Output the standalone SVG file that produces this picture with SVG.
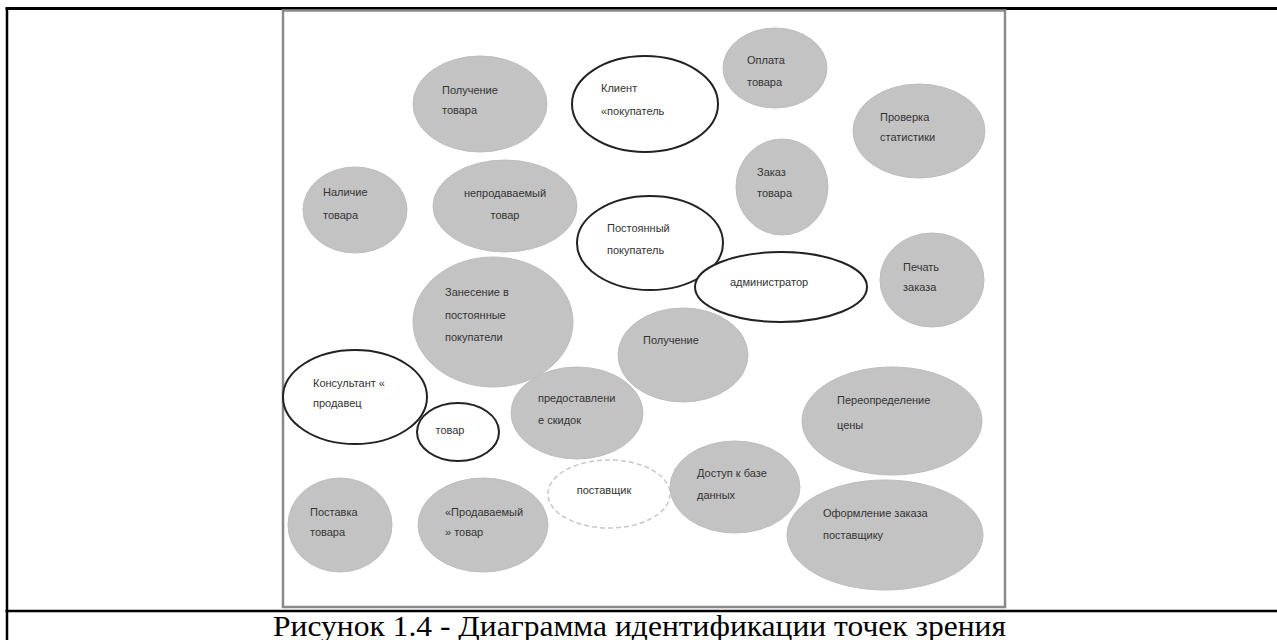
<svg xmlns="http://www.w3.org/2000/svg" width="1277" height="640" viewBox="0 0 1277 640">
<style>
.g{fill:#c3c3c3;stroke:#bdbdbd;stroke-width:1}
.w{fill:#fff;stroke:#222;stroke-width:2}
.d{fill:#fff;stroke:#c8c8c8;stroke-width:1.5;stroke-dasharray:5 3}
.t{font-family:"Liberation Sans",Arial,sans-serif;font-size:11px;fill:#333}
.c{text-anchor:middle}
.cap{font-family:"Liberation Serif","Times New Roman",serif;font-size:30px;fill:#000}
</style>
<rect width="1277" height="640" fill="#fff"/>
<g id="table">
<line x1="5.5" y1="8.5" x2="1277" y2="8.5" stroke="#000" stroke-width="3"/>
<line x1="7" y1="8" x2="7" y2="640" stroke="#000" stroke-width="2.5"/>
<line x1="5.5" y1="611" x2="1277" y2="611" stroke="#000" stroke-width="2.5"/>
<rect x="283" y="10.5" width="722" height="596.5" fill="#fff" stroke="#8a8a8a" stroke-width="2.5"/>
</g>
<g id="n1"><ellipse class="g" cx="480" cy="104" rx="67" ry="48"/><text class="t" x="442" y="94">Получение</text><text class="t" x="442" y="114">товара</text></g>
<g id="n2"><ellipse class="w" cx="645" cy="104" rx="73" ry="48"/><text class="t" x="601" y="92">Клиент</text><text class="t" x="601" y="115">«покупатель</text></g>
<g id="n3"><ellipse class="g" cx="775" cy="68" rx="52" ry="40"/><text class="t" x="747" y="64">Оплата</text><text class="t" x="747" y="86">товара</text></g>
<g id="n4"><ellipse class="g" cx="919" cy="131" rx="66" ry="47"/><text class="t" x="880" y="121">Проверка</text><text class="t" x="880" y="141">статистики</text></g>
<g id="n5"><ellipse class="g" cx="782" cy="187" rx="46" ry="48"/><text class="t" x="757" y="176">Заказ</text><text class="t" x="757" y="197">товара</text></g>
<g id="n6"><ellipse class="g" cx="355" cy="210" rx="52" ry="43"/><text class="t" x="323" y="196">Наличие</text><text class="t" x="323" y="219">товара</text></g>
<g id="n7"><ellipse class="g" cx="505" cy="206" rx="72" ry="46"/><text class="t c" x="505" y="197">непродаваемый</text><text class="t c" x="505" y="219">товар</text></g>
<g id="n8"><ellipse class="w" cx="650" cy="243" rx="73" ry="47"/><text class="t" x="607" y="232">Постоянный</text><text class="t" x="607" y="254">покупатель</text></g>
<g id="n9"><ellipse class="w" cx="781" cy="287" rx="86" ry="35"/><text class="t" x="730" y="286">администратор</text></g>
<g id="n10"><ellipse class="g" cx="932" cy="280" rx="52" ry="47"/><text class="t" x="903" y="271">Печать</text><text class="t" x="903" y="291">заказа</text></g>
<g id="n11"><ellipse class="g" cx="493" cy="322" rx="80" ry="65"/><text class="t" x="445" y="296">Занесение в</text><text class="t" x="445" y="319">постоянные</text><text class="t" x="445" y="341">покупатели</text></g>
<g id="n12"><ellipse class="g" cx="683" cy="355" rx="65" ry="47"/><text class="t" x="643" y="344">Получение</text></g>
<g id="n13"><ellipse class="w" cx="355" cy="397" rx="72" ry="47"/><text class="t" x="313" y="387">Консультант «</text><text class="t" x="313" y="407">продавец</text></g>
<g id="n14"><ellipse class="w" cx="458" cy="432" rx="41" ry="29"/><text class="t c" x="450" y="434">товар</text></g>
<g id="n15"><ellipse class="g" cx="577" cy="413" rx="66" ry="46"/><text class="t" x="538" y="402">предоставлени</text><text class="t" x="538" y="424">е скидок</text></g>
<g id="n16"><ellipse class="g" cx="892" cy="421" rx="90" ry="54"/><text class="t" x="837" y="404">Переопределение</text><text class="t" x="837" y="429">цены</text></g>
<g id="n17"><ellipse class="g" cx="340" cy="525" rx="52" ry="47"/><text class="t" x="310" y="516">Поставка</text><text class="t" x="310" y="536">товара</text></g>
<g id="n18"><ellipse class="g" cx="483" cy="525" rx="65" ry="47"/><text class="t" x="445" y="516">«Продаваемый</text><text class="t" x="445" y="536">» товар</text></g>
<g id="n19"><ellipse class="d" cx="609" cy="494" rx="61" ry="34"/><text class="t c" x="604" y="494">поставщик</text></g>
<g id="n20"><ellipse class="g" cx="735" cy="487" rx="65" ry="46"/><text class="t" x="697" y="477">Доступ к базе</text><text class="t" x="697" y="499">данных</text></g>
<g id="n21"><ellipse class="g" cx="885" cy="535" rx="98" ry="55"/><text class="t" x="823" y="517">Оформление заказа</text><text class="t" x="823" y="539">поставщику</text></g>
<g id="connectors"></g>
<text class="cap" x="273" y="636" textLength="733" lengthAdjust="spacingAndGlyphs">Рисунок 1.4 - Диаграмма идентификации точек зрения</text>
</svg>
